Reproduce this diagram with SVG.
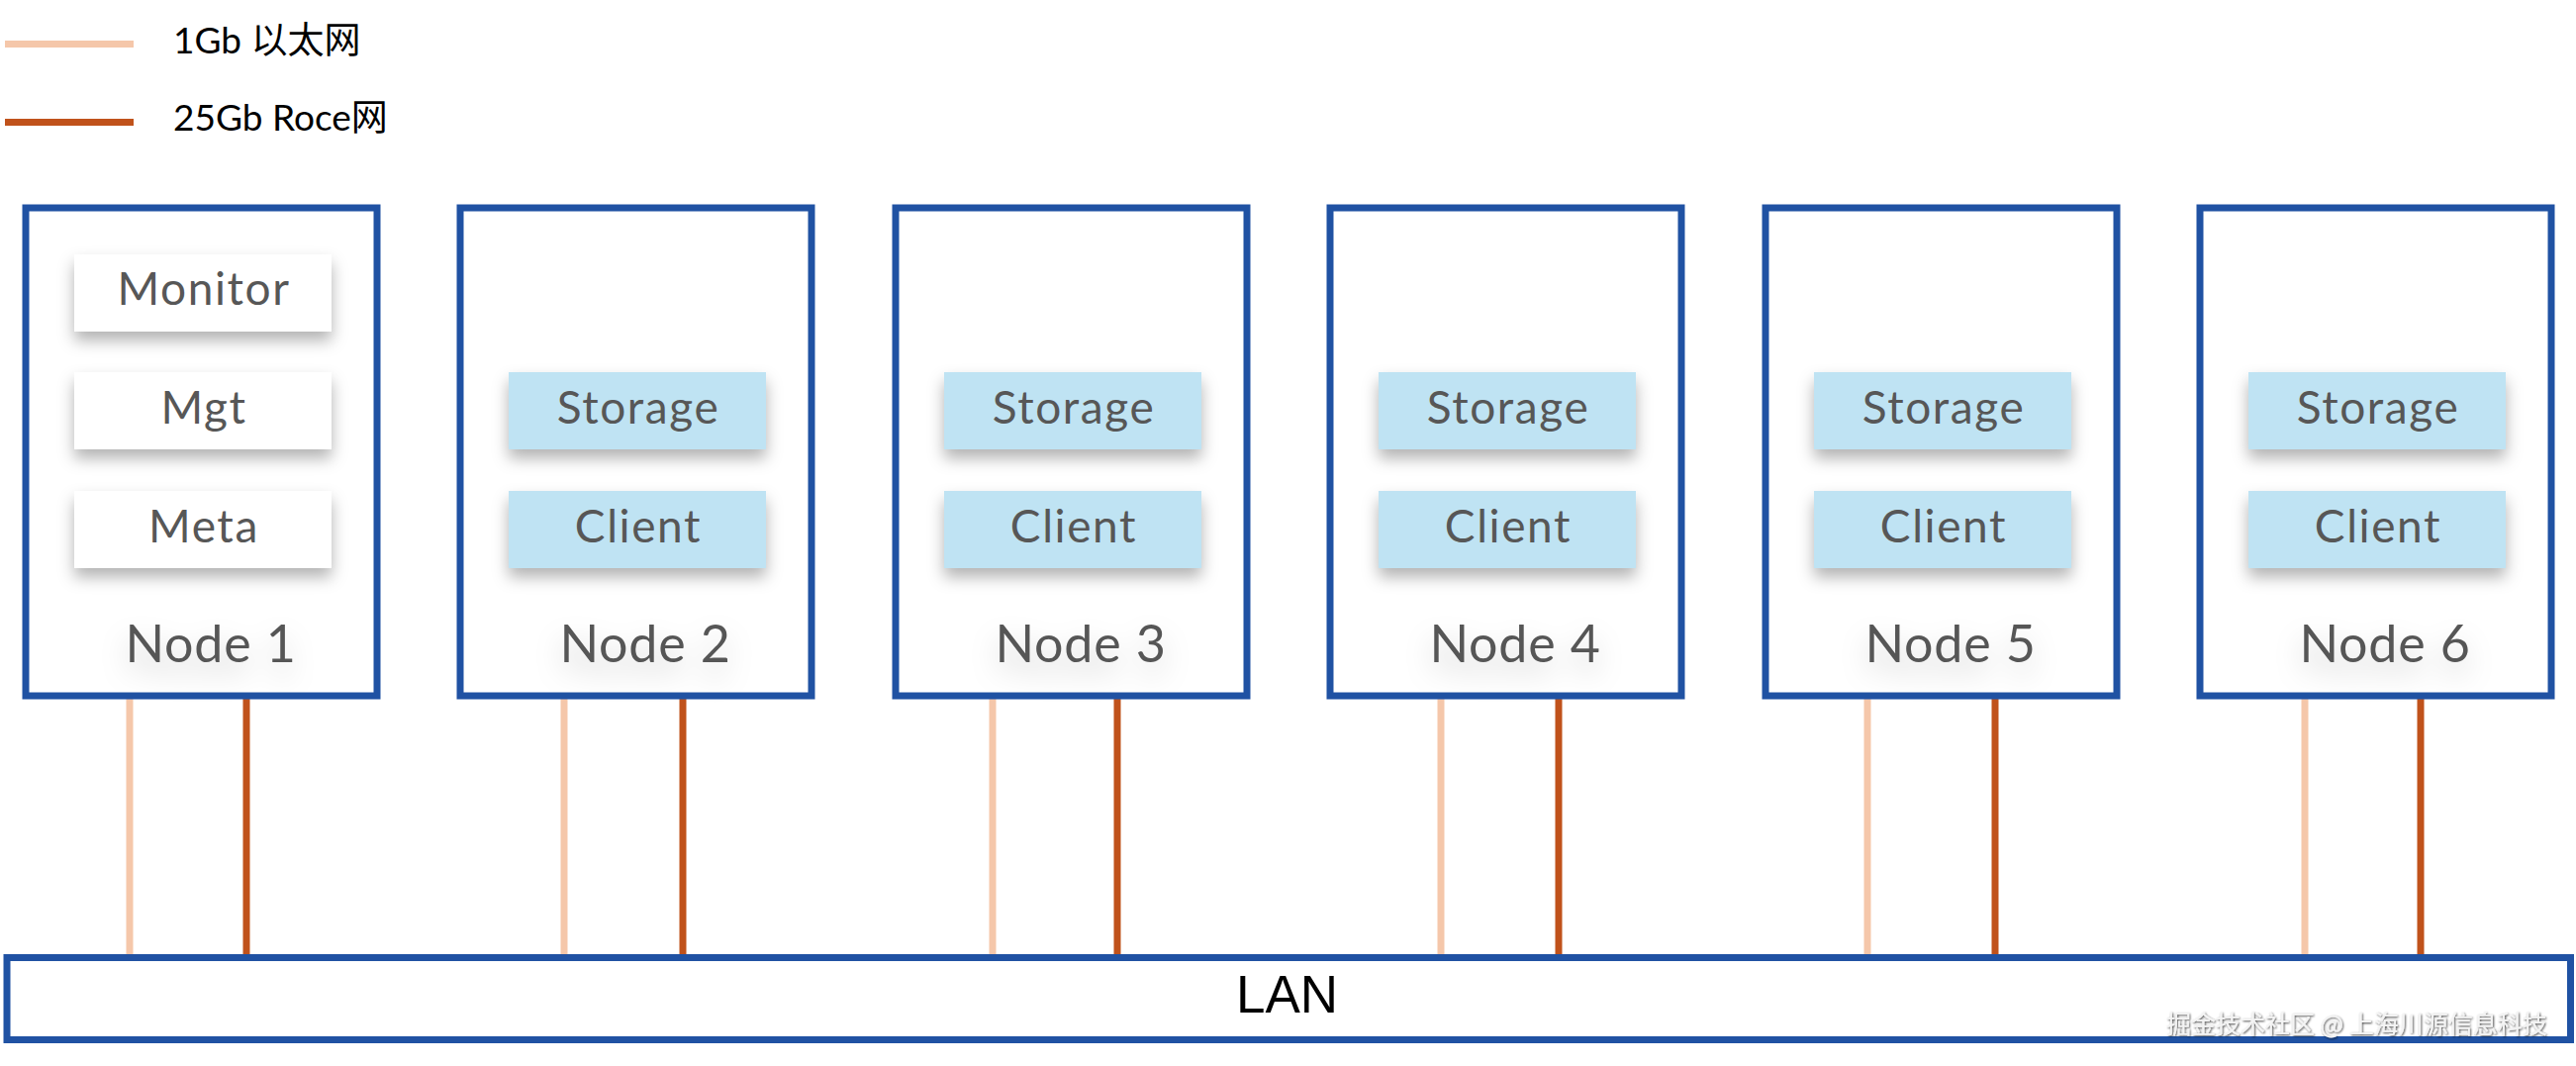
<svg xmlns="http://www.w3.org/2000/svg" width="2603" height="1077" viewBox="0 0 2603 1077">
<defs>
<style>
.node{fill:#fff;stroke:#2052A3;stroke-width:7}
.svc{filter:url(#sh)}
.w{fill:#fff}
.b{fill:#BFE3F3}
.t{font-family:Lato,"Noto Sans","Liberation Sans",sans-serif;fill:#575757;text-anchor:middle}
.st{font-size:46px;letter-spacing:1.6px}
.nl{font-size:52px;letter-spacing:0.8px;filter:url(#tsh)}
.l1{stroke:#F5C7AA;stroke-width:7}
.l2{stroke:#C0521B;stroke-width:7}
.lg{font-family:Lato,"Noto Sans","Noto Sans CJK SC",sans-serif;font-size:37px;fill:#000}
.lan{font-family:"Liberation Sans",Arial,sans-serif;font-size:53px;fill:#000;text-anchor:middle}
.wm{font-family:"Noto Sans CJK SC","Noto Sans",sans-serif;font-size:25px;fill:#f4f4f4;filter:url(#wsh)}
</style>
<filter id="sh" x="-20%" y="-40%" width="140%" height="190%">
<feDropShadow dx="0" dy="9" stdDeviation="8" flood-color="#000" flood-opacity="0.3"/>
</filter>
<filter id="tsh" x="-30%" y="-50%" width="160%" height="250%">
<feDropShadow dx="0" dy="14" stdDeviation="14" flood-color="#000" flood-opacity="0.18"/>
</filter>
<filter id="wsh" x="-5%" y="-30%" width="110%" height="160%">
<feDropShadow dx="1" dy="1" stdDeviation="1" flood-color="#000" flood-opacity="0.75"/>
</filter>
</defs>
<rect width="2603" height="1077" fill="#fff"/>

<g id="legend">
<line x1="5" y1="44.5" x2="135" y2="44.5" class="l1"/>
<line x1="5" y1="123.5" x2="135" y2="123.5" class="l2"/>
<text x="175" y="54" class="lg">1Gb 以太网</text>
<text x="175" y="132" class="lg">25Gb Roce网</text>
</g>

<g id="connectors">
<line x1="131" y1="703" x2="131" y2="967" class="l1"/>
<line x1="249" y1="703" x2="249" y2="967" class="l2"/>
<line x1="570" y1="703" x2="570" y2="967" class="l1"/>
<line x1="690" y1="703" x2="690" y2="967" class="l2"/>
<line x1="1003" y1="703" x2="1003" y2="967" class="l1"/>
<line x1="1129" y1="703" x2="1129" y2="967" class="l2"/>
<line x1="1456" y1="703" x2="1456" y2="967" class="l1"/>
<line x1="1575" y1="703" x2="1575" y2="967" class="l2"/>
<line x1="1887" y1="703" x2="1887" y2="967" class="l1"/>
<line x1="2016" y1="703" x2="2016" y2="967" class="l2"/>
<line x1="2329" y1="703" x2="2329" y2="967" class="l1"/>
<line x1="2446" y1="703" x2="2446" y2="967" class="l2"/>
</g>

<g id="node1">
<rect x="26" y="210" width="355" height="493" class="node"/>
<rect x="75" y="257" width="260" height="78" class="w svc"/>
<rect x="75" y="376" width="260" height="78" class="w svc"/>
<rect x="75" y="496" width="260" height="78" class="w svc"/>
<text x="206" y="308" class="t st">Monitor</text>
<text x="206" y="428" class="t st">Mgt</text>
<text x="206" y="548" class="t st">Meta</text>
<text x="213" y="669" class="t nl">Node 1</text>
</g>

<g id="node2">
<rect x="465" y="210" width="355" height="493" class="node"/>
<rect x="514" y="376" width="260" height="78" class="b svc"/>
<rect x="514" y="496" width="260" height="78" class="b svc"/>
<text x="645" y="428" class="t st">Storage</text>
<text x="645" y="548" class="t st">Client</text>
<text x="652" y="669" class="t nl">Node 2</text>
</g>

<g id="node3">
<rect x="905" y="210" width="355" height="493" class="node"/>
<rect x="954" y="376" width="260" height="78" class="b svc"/>
<rect x="954" y="496" width="260" height="78" class="b svc"/>
<text x="1085" y="428" class="t st">Storage</text>
<text x="1085" y="548" class="t st">Client</text>
<text x="1092" y="669" class="t nl">Node 3</text>
</g>

<g id="node4">
<rect x="1344" y="210" width="355" height="493" class="node"/>
<rect x="1393" y="376" width="260" height="78" class="b svc"/>
<rect x="1393" y="496" width="260" height="78" class="b svc"/>
<text x="1524" y="428" class="t st">Storage</text>
<text x="1524" y="548" class="t st">Client</text>
<text x="1531" y="669" class="t nl">Node 4</text>
</g>

<g id="node5">
<rect x="1784" y="210" width="355" height="493" class="node"/>
<rect x="1833" y="376" width="260" height="78" class="b svc"/>
<rect x="1833" y="496" width="260" height="78" class="b svc"/>
<text x="1964" y="428" class="t st">Storage</text>
<text x="1964" y="548" class="t st">Client</text>
<text x="1971" y="669" class="t nl">Node 5</text>
</g>

<g id="node6">
<rect x="2223" y="210" width="355" height="493" class="node"/>
<rect x="2272" y="376" width="260" height="78" class="b svc"/>
<rect x="2272" y="496" width="260" height="78" class="b svc"/>
<text x="2403" y="428" class="t st">Storage</text>
<text x="2403" y="548" class="t st">Client</text>
<text x="2410" y="669" class="t nl">Node 6</text>
</g>

<g id="lan">
<rect x="7" y="967.5" width="2590.5" height="83" class="node"/>
<text x="1300.5" y="1023" class="lan">LAN</text>
</g>

<text x="2189" y="1044" class="wm">掘金技术社区 @ 上海川源信息科技</text>
</svg>
